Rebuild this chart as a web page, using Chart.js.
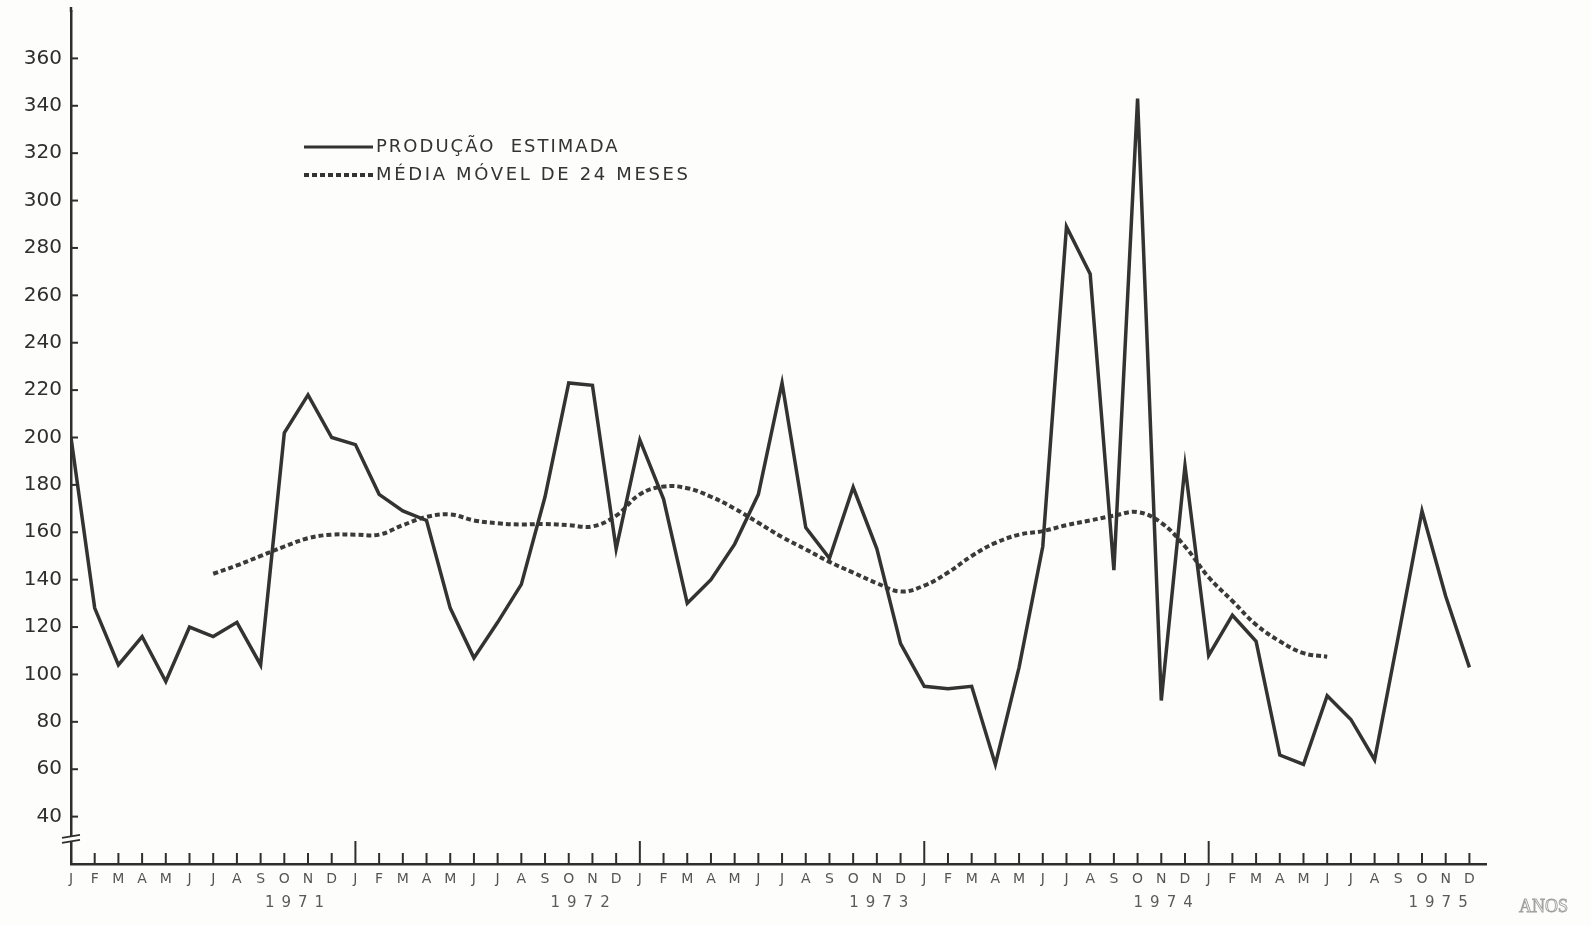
<!DOCTYPE html>
<html>
<head>
<meta charset="utf-8">
<script src="https://cdn.jsdelivr.net/npm/chart.js@4.4.1/dist/chart.umd.min.js"></script>
<style>
  html, body { margin: 0; padding: 0; background: #fdfdfb; }
  canvas { display: block; }
</style>
</head>
<body>
<canvas id="c" width="1591" height="925"></canvas>
<script>
// ---- data ----
const mesesLetras = ['J','F','M','A','M','J','J','A','S','O','N','D'];
const anos = ['1971','1972','1973','1974','1975'];
// Produção estimada, Jan 1971 .. Dez 1975 (60 meses)
const producao = [
  200, 128, 104, 116,  97, 120, 116, 122, 104, 202, 218, 200,
  197, 176, 169, 165, 128, 107, 122, 138, 175, 223, 222, 153,
  199, 174, 130, 140, 155, 176, 223, 162, 149, 179, 153, 113,
   95,  94,  95,  62, 103, 154, 289, 269, 144, 343,  89, 188,
  108, 125, 114,  66,  62,  91,  81,  64, 116, 169, 133, 103
];
// Média móvel de 24 meses, de Jul 1971 (índice 6) a Jun 1975 (índice 53)
const mediaMovelInicio = 6;
const mediaMovel = [
  142.5, 146, 150, 154, 157.5, 159,
  159, 159, 163, 166.5, 167.5, 165, 163.8, 163.3, 163.5, 163, 162.5, 167,
  176, 179.3, 178.6, 175, 170, 164, 158, 152.8, 147.5, 143, 138.5, 135,
  137.5, 143, 150, 155.5, 159, 160.5, 163, 165, 167, 168.5, 164, 154,
  141, 131, 121, 114, 109, 107.5
];
const legendaTextos = ['PRODUÇÃO  ESTIMADA', 'MÉDIA MÓVEL DE 24 MESES'];
const tituloEixoX = 'ANOS';

// ---- build datasets from arrays ----
const prodPts = producao.map((v, i) => ({ x: i, y: v }));
const mmPts = mediaMovel.map((v, k) => ({ x: k + mediaMovelInicio, y: v }));

const INK = '#2e2e2e';
const BG = '#fdfdfb';

const decor = {
  id: 'decor',
  afterDraw(chart) {
    const ctx = chart.ctx;
    const xs = chart.scales.x, ys = chart.scales.y;
    const ca = chart.chartArea;
    ctx.save();
    ctx.strokeStyle = INK;
    ctx.lineCap = 'butt';
    // extend y axis line slightly above the plot
    ctx.lineWidth = 2.5;
    ctx.beginPath(); ctx.moveTo(ca.left, ca.top + 1); ctx.lineTo(ca.left, ca.top - 4); ctx.stroke();
    // y ticks pointing inward
    ctx.lineWidth = 2;
    for (let v = 40; v <= 360; v += 20) {
      const y = ys.getPixelForValue(v);
      ctx.beginPath(); ctx.moveTo(ca.left, y); ctx.lineTo(ca.left + 7, y); ctx.stroke();
    }
    // x ticks pointing upward, taller at January
    for (let i = 0; i < producao.length; i++) {
      const x = xs.getPixelForValue(i);
      const h = (i % 12 === 0 && i > 0) ? 23 : 11;
      ctx.lineWidth = 2;
      ctx.beginPath(); ctx.moveTo(x, ca.bottom); ctx.lineTo(x, ca.bottom - h); ctx.stroke();
    }
    // axis break marks
    const yb = ys.getPixelForValue(31);
    ctx.fillStyle = BG;
    ctx.fillRect(ca.left - 4, yb - 1, 8, 4);
    ctx.lineWidth = 1.8;
    ctx.beginPath();
    ctx.moveTo(ca.left - 9, yb); ctx.lineTo(ca.left + 9, yb - 3);
    ctx.moveTo(ca.left - 9, yb + 5); ctx.lineTo(ca.left + 9, yb + 2);
    ctx.stroke();
    // year labels
    ctx.fillStyle = '#5a5a5a';
    ctx.font = '15px "DejaVu Sans"';
    ctx.textAlign = 'center';
    ctx.textBaseline = 'middle';
    try { ctx.letterSpacing = '7px'; } catch (e) {}
    const anchors = [9.45, 21.5, 34.1, 46.1, 57.7];
    anos.forEach((a, k) => {
      ctx.fillText(a, xs.getPixelForValue(anchors[k]) + 3, 903);
    });
    try { ctx.letterSpacing = '0px'; } catch (e) {}
    // ANOS
    ctx.font = '18px "Liberation Serif"';
    ctx.strokeStyle = '#a0a0a0';
    ctx.lineWidth = 0.9;
    ctx.textAlign = 'left';
    ctx.strokeText(tituloEixoX, 1519, 907);
    // legend
    const lx0 = 304, lx1 = 373;
    const ly = [147, 175];
    ctx.strokeStyle = '#333';
    ctx.lineWidth = 3;
    ctx.setLineDash([]);
    ctx.beginPath(); ctx.moveTo(lx0, ly[0]); ctx.lineTo(lx1, ly[0]); ctx.stroke();
    ctx.lineWidth = 4;
    ctx.setLineDash([5, 3]);
    ctx.beginPath(); ctx.moveTo(lx0, ly[1]); ctx.lineTo(lx1, ly[1]); ctx.stroke();
    ctx.setLineDash([]);
    ctx.fillStyle = '#333';
    ctx.font = '18px "DejaVu Sans"';
    ctx.textBaseline = 'middle';
    try { ctx.letterSpacing = '2px'; } catch (e) {}
    ctx.fillText(legendaTextos[0], 376, ly[0]);
    try { ctx.letterSpacing = '2.65px'; } catch (e) {}
    ctx.fillText(legendaTextos[1], 376, ly[1]);
    ctx.restore();
  }
};

new Chart(document.getElementById('c'), {
  type: 'line',
  data: {
    datasets: [
      {
        label: legendaTextos[0],
        data: prodPts,
        borderColor: '#333333',
        borderWidth: 3.5,
        pointRadius: 0,
        tension: 0,
        fill: false
      },
      {
        label: legendaTextos[1],
        data: mmPts,
        borderColor: '#3a3a3a',
        borderWidth: 4,
        borderDash: [5, 3],
        pointRadius: 0,
        tension: 0.4,
        fill: false
      }
    ]
  },
  options: {
    responsive: false,
    animation: false,
    devicePixelRatio: 1,
    layout: { padding: { left: 0, top: 11, right: 105, bottom: 0 } },
    plugins: { legend: { display: false }, tooltip: { enabled: false }, title: { display: false } },
    scales: {
      x: {
        type: 'linear',
        min: 0,
        max: 59.7,
        afterBuildTicks(s) { s.ticks = producao.map((_, i) => ({ value: i })); },
        afterFit(s) { s.height = 61; s.paddingLeft = 0; s.paddingRight = 0; },
        grid: { display: false, drawTicks: false },
        border: { display: true, color: INK, width: 2.5 },
        ticks: {
          autoSkip: false,
          maxRotation: 0,
          padding: 7,
          color: '#555',
          font: { family: 'DejaVu Sans', size: 14 },
          callback: (v) => (Number.isInteger(v) && v >= 0 && v < producao.length) ? mesesLetras[v % 12] : ''
        }
      },
      y: {
        type: 'linear',
        min: 20,
        max: 380,
        afterFit(s) { s.width = 71; s.paddingTop = 0; s.paddingBottom = 0; },
        grid: { display: false, drawTicks: false },
        border: { display: true, color: INK, width: 2.5 },
        ticks: {
          stepSize: 20,
          padding: 9,
          color: '#2e2e2e',
          font: { family: 'DejaVu Sans', size: 20 },
          callback: (v) => (v >= 40 && v <= 360) ? String(v) : ''
        }
      }
    }
  },
  plugins: [decor]
});
</script>
</body>
</html>
